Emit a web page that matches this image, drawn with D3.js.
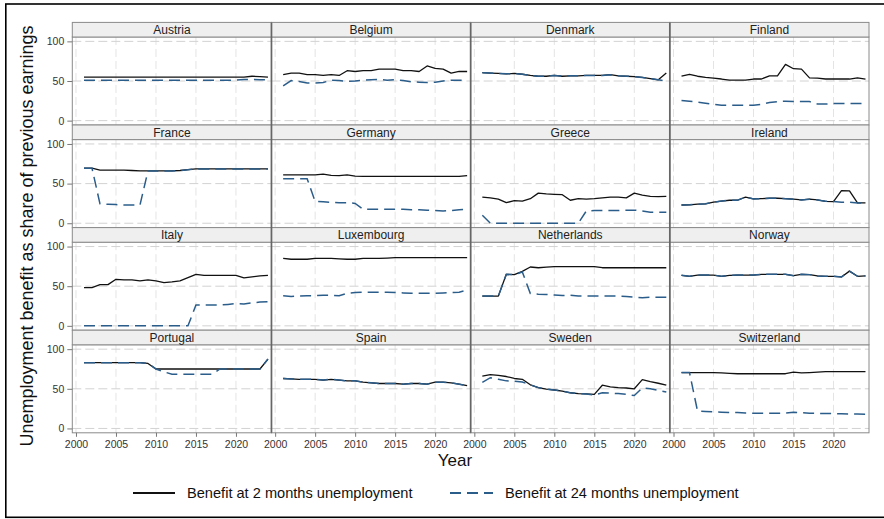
<!DOCTYPE html>
<html>
<head>
<meta charset="utf-8">
<script src="https://cdn.jsdelivr.net/npm/d3@7"></script>
<style>
  body { margin: 0; background: #fff; }
  svg { display: block; }
  text { font-family: "Liberation Sans", Arial, Helvetica, sans-serif; }
</style>
</head>
<body>
<svg id="chart" width="884" height="519"></svg>
<script>
// Unemployment benefit replacement rates, 2001–2024, by country
const years = d3.range(2001, 2025);
const countries = ["Austria", "Belgium", "Denmark", "Finland",
                   "France", "Germany", "Greece", "Ireland",
                   "Italy", "Luxembourg", "Netherlands", "Norway",
                   "Portugal", "Spain", "Sweden", "Switzerland"];

// Benefit at 2 months of unemployment (% of previous earnings), one row per country
const twoMonths = [
  [55,55,55,55,55,55,55,55,55,55,55,55,55,55,55,55,55,55,55,55,55,56,55.5,55],
  [58,60,60,58,58,57,58,57,63,62,63,63,65,65,65,63,63,62,69,66,65,60,62,62],
  [60.5,60,59.5,59,59.5,58.5,57,56,56,57,56,56.5,56.5,57,57,57,58,56.5,56,55.5,54.5,53,51.5,60],
  [56,58.5,56,54.5,53.5,52.5,51,51,51,52.5,52.5,56.5,56.5,71,65.5,65,54,53.5,52.5,52.5,52.5,52.5,54,52.5],
  [69.5,69.5,67,67,67,67,66.5,66,66,66,66,66,66.5,67.5,68.5,68.5,68.5,68.5,68.5,68.5,68.5,68.5,68.5,68.5],
  [61,61,61,61,61,62,60.5,60,61,59.5,59,59,59,59,59,59,59,59,59,59,59,59,59,60],
  [33,32,30.5,26,28.5,28,31,38,37,36.5,36,29,31,30.5,31,32,33,33,32,38,35.5,34,33.5,34],
  [23,23.2,24,24.5,26.5,28,29,29,33,30.7,31,31.5,31.5,31,30.3,29.4,30.3,29.4,27.7,27.3,41,40.8,25.6,25.6],
  [48.3,48.3,52,52,58.7,58,58,56.7,58,56.7,54.6,55.4,56.7,60.8,65,63.7,63.7,63.7,63.7,63.7,60.4,61.7,63,63.7],
  [85,84,84,84,85,85,85,84.5,84,84,85,85,85,85.5,86,86,86,86,86,86,86,86,86,86],
  [37.5,37.5,37.5,65,64.5,68.7,74.2,73.3,74,74.6,74.6,74.6,74.6,74.6,74.6,73.3,73.3,73.3,73.3,73.3,73.3,73.3,73.3,73.3],
  [63.7,62.5,64,64,64,62.5,63.7,64,64,64,65,65,65,65,63.3,65,64.6,63,62.5,62.5,61.7,69,62.5,63],
  [83,83,83,83,83,83,83,83,82,75,75,75,75,75,75,75,75,75,75,75,75,75,75,87.5],
  [63,62.5,62,62,62,61,62,61,60,60,58.3,57.5,56.7,56.7,56.7,55.8,56.7,56.7,55.8,58.3,58.3,57.5,55.8,54],
  [66,68,67,65.5,63,62,55,51.5,49.5,48.5,47,45,44,43.5,43,54.5,52.5,51.5,51,50,61.5,59,57,54.5],
  [70.5,70.5,70.5,70.5,70.5,70,69.5,69,69,69,69,69,69,69,71,70,70.5,71,71.7,71.7,71.7,71.7,71.7,71.7]
];

// Benefit at 24 months of unemployment (% of previous earnings), same country order
const twentyFourMonths = [
  [51,51,51,51,51,51,51,51,51,51,51,51,51,51,51,51,51,51,51,51,52,52,51.5,51.5],
  [44,50.5,49.5,47.5,47.5,48,51,50.5,49.5,50,51,51.5,52,51,51.5,50.5,49,48.5,48,48.5,50,51,51,50.5],
  [60.5,60,59.5,59,59.5,58.5,57,56,56,57,56,56.5,56.5,57,57,57,58,56.5,56,55.5,54.5,53,51.5,50],
  [25.5,24.5,23.5,22,20.5,19.5,19.5,19.5,19.5,19.5,20.5,23,24,24.5,24,24,24,21,21,21.5,21.5,21.5,21.5,21.5],
  [69.5,69.5,24.5,24,23.5,23,23,23,66,66,66,66,66.5,67.5,68.5,68.5,68.5,68.5,68.5,68.5,68.5,68.5,68.5,68.5],
  [56,56,56,56,27.5,27,26.5,26,26,25,17.5,17.5,17.5,17.5,17.5,17.5,17,17,16.5,16,15.5,16,17,17.5],
  [10,0,0,0,0,0,0,0,0,0,0,0,0,15.5,16,16,16,16,16.5,16.5,15.5,14,14,14],
  [23,23.2,24,24.5,26.5,28,29,29,33,30.7,31,31.5,31.5,31,30.3,29.4,30.3,29.4,27.7,27.3,26.5,26.5,25.6,25.6],
  [0,0,0,0,0,0,0,0,0,0,0,0,0,0,26.2,26.2,26.2,26.2,27,28,27.5,29,30,30.4],
  [38,37,37.5,38,38,38.5,38.5,38,41,42,42.5,42.5,42.5,42.5,42,41.5,41,41,41,41,41.5,42,42.5,45],
  [37.5,37.5,37.5,65,64.5,68,40.8,40,39.6,39,38.3,38.7,37.5,37.5,37.5,37.5,37.5,37.5,37,36.2,35.4,36.2,36.2,36.2],
  [63.7,62.5,64,64,64,62.5,63.7,64,64,64,65,65,65,65,63.3,65,64.6,63,62.5,62.5,61.7,69,62.5,63],
  [83,83,83,83,83,83,83,83,82,75,71.5,68.3,68.3,68.3,68.3,68.3,68.3,75,75,75,75,75,75,87.5],
  [63,62.5,62,62,62,61,62,61,60,60,58.3,57.5,56.7,56.7,56.7,55.8,56.7,56.7,55.8,58.3,58.3,57.5,55.8,54],
  [58,64,62,60,59.5,58.5,55,51.5,49.5,48.5,47,45,44,43.5,42,45,44.5,44,43,41.5,51,50,48,46],
  [70.5,70.5,22,21.5,20.8,20.5,20,20,19.5,19.2,19.2,19.2,19.2,19.5,20.4,19.8,19.2,19,19,18.8,18.5,18.3,18.2,18]
];

const xTicks = [2000, 2005, 2010, 2015, 2020];
const yTicks = [0, 50, 100];
const seriesLabels = ["Benefit at 2 months unemployment", "Benefit at 24 months unemployment"];

// ---- layout ----
const svg = d3.select("#chart");
const gridLeft = 72.3, gridRight = 869;
const nCol = 4, nRow = 4;
const colW = (gridRight - gridLeft) / nCol;
const rowTop0 = 22.4, rowPitch = 102.6, stripH = 14.6;
const plotH = rowPitch - stripH;
const gridBottom = rowTop0 + nRow * rowPitch;

const solidColor = "#111111";
const dashColor = "#2b5d8b";
const frameColor = "#8a8a8a";

const x = d3.scaleLinear().domain([1999.54, 2024.44]).range([0, colW]);
const y = d3.scaleLinear().domain([-5.5, 105.5]).range([plotH, 0]);

const line = d3.line()
  .x((d, i) => x(years[i]))
  .y(d => y(d));

const defs = svg.append("defs");
defs.append("clipPath").attr("id", "plot-clip")
  .append("rect").attr("x", 0).attr("y", 0).attr("width", colW).attr("height", plotH);

// outer frame
svg.append("rect")
  .attr("x", 5.8).attr("y", 4).attr("width", 900).attr("height", 513.3)
  .attr("fill", "none").attr("stroke", "#000").attr("stroke-width", 1.6);

countries.forEach((name, i) => {
  const c = i % nCol, r = Math.floor(i / nCol);
  const px = gridLeft + c * colW;
  const sy = rowTop0 + r * rowPitch;
  const py = sy + stripH;

  const g = svg.append("g").attr("transform", `translate(${px},${py})`);

  g.append("rect").attr("width", colW).attr("height", plotH).attr("fill", "#fff");

  // gridlines
  g.selectAll("line.vgrid").data(xTicks).join("line")
    .attr("class", "vgrid")
    .attr("x1", d => x(d)).attr("x2", d => x(d))
    .attr("y1", 0).attr("y2", plotH)
    .attr("stroke", "#e4e4e4").attr("stroke-width", 1)
    .attr("stroke-dasharray", "8,4");
  g.selectAll("line.hgrid").data(yTicks).join("line")
    .attr("class", "hgrid")
    .attr("x1", 0).attr("x2", colW)
    .attr("y1", d => y(d)).attr("y2", d => y(d))
    .attr("stroke", "#d2d2d2").attr("stroke-width", 1)
    .attr("stroke-dasharray", "9,4");

  const lines = g.append("g").attr("clip-path", "url(#plot-clip)");
  lines.append("path")
    .attr("d", line(twoMonths[i]))
    .attr("fill", "none").attr("stroke", solidColor)
    .attr("stroke-width", 1.3).attr("stroke-linejoin", "round");
  lines.append("path")
    .attr("d", line(twentyFourMonths[i]))
    .attr("fill", "none").attr("stroke", dashColor)
    .attr("stroke-width", 1.5).attr("stroke-dasharray", "11,6");

  g.append("rect").attr("width", colW).attr("height", plotH)
    .attr("fill", "none").attr("stroke", frameColor).attr("stroke-width", 1);

  // strip
  svg.append("rect")
    .attr("x", px).attr("y", sy).attr("width", colW).attr("height", stripH)
    .attr("fill", "#efefef").attr("stroke", frameColor).attr("stroke-width", 1);
  svg.append("text")
    .attr("x", px + colW / 2).attr("y", sy + stripH / 2 + 4.2)
    .attr("text-anchor", "middle")
    .attr("font-size", 12).attr("fill", "#222")
    .text(name);

  // axes on outer panels
  if (c === 0) {
    const ay = g.append("g").call(
      d3.axisLeft(y).tickValues(yTicks).tickSize(5).tickPadding(3)
    );
    ay.select(".domain").remove();
    ay.selectAll(".tick line").attr("stroke", "#777");
    ay.selectAll(".tick text").attr("font-size", 10.5).attr("fill", "#333")
      .style("font-family", '"Liberation Sans", Arial, Helvetica, sans-serif');
  }
  if (r === nRow - 1) {
    const ax = g.append("g").attr("transform", `translate(0,${plotH})`).call(
      d3.axisBottom(x).tickValues(xTicks).tickFormat(d3.format("d")).tickSize(4).tickPadding(3.6)
    );
    ax.select(".domain").remove();
    ax.selectAll(".tick line").attr("stroke", "#777");
    ax.selectAll(".tick text").attr("font-size", 10.5).attr("fill", "#333")
      .style("font-family", '"Liberation Sans", Arial, Helvetica, sans-serif');
  }
});

// column dividers
d3.range(1, nCol).forEach(c => {
  const xx = gridLeft + c * colW;
  svg.append("line")
    .attr("x1", xx).attr("x2", xx).attr("y1", rowTop0).attr("y2", gridBottom)
    .attr("stroke", "#666").attr("stroke-width", 1.7);
});

// axis titles
svg.append("text")
  .attr("transform", `translate(33,236) rotate(-90)`)
  .attr("text-anchor", "middle")
  .attr("font-size", 18).attr("fill", "#111")
  .text("Unemployment benefit as share of previous earnings");

svg.append("text")
  .attr("x", 455).attr("y", 465.5)
  .attr("text-anchor", "middle")
  .attr("font-size", 17).attr("fill", "#111")
  .text("Year");

// legend
const legendY = 493;
const legend = [
  { x0: 133, x1: 175, tx: 187, color: solidColor, dash: null, label: seriesLabels[0] },
  { x0: 450, x1: 493, tx: 505, color: dashColor, dash: "11,6", label: seriesLabels[1] }
];
legend.forEach(d => {
  svg.append("line")
    .attr("x1", d.x0).attr("x2", d.x1).attr("y1", legendY).attr("y2", legendY)
    .attr("stroke", d.color).attr("stroke-width", 2)
    .attr("stroke-dasharray", d.dash);
  svg.append("text")
    .attr("x", d.tx).attr("y", legendY + 5.3)
    .attr("font-size", 14.6).attr("fill", "#111")
    .text(d.label);
});
</script>
</body>
</html>
